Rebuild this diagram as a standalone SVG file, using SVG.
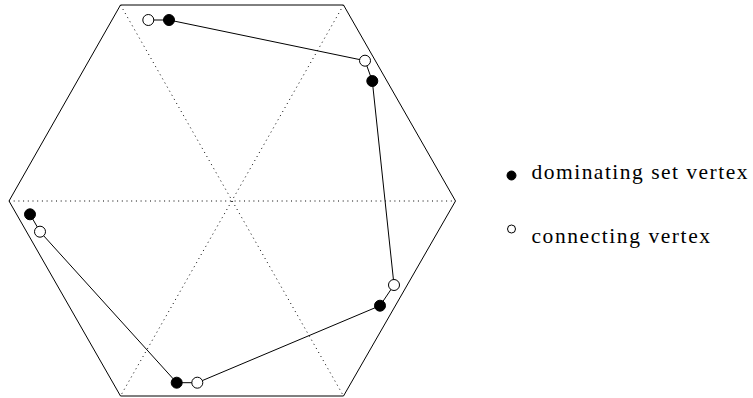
<svg xmlns="http://www.w3.org/2000/svg" width="753" height="398" viewBox="0 0 753 398">
<style>
.hex{fill:none;stroke:#000;stroke-width:1}
.dot{fill:none;stroke:#000;stroke-width:1;stroke-dasharray:1 3.7}
.edge{fill:none;stroke:#000;stroke-width:1}
.dom{fill:#000;stroke:#000;stroke-width:1}
.con{fill:#fff;stroke:#000;stroke-width:1}
</style>
<rect width="753" height="398" fill="#fff"/>
<g id="hexagon">
<polygon class="hex" points="120.5,5 343.5,5 455.5,201 343.5,396 120.5,396 9,201"/>
<line class="dot" x1="120.5" y1="5" x2="343.5" y2="396"/>
<line class="dot" x1="343.5" y1="5" x2="120.5" y2="396"/>
<line class="dot" x1="9" y1="201" x2="455.5" y2="201"/>
</g>
<g id="connectors">
<polyline class="edge" points="148.3,20 169,20 365,60.7 372.3,81 394,285 380,305.7 197.3,382.7 176.7,382.7 40,231.7 30,214.3"/>
</g>
<g id="n1"><circle class="con" cx="148.3" cy="20" r="5.5"/></g>
<g id="n2"><circle class="dom" cx="169" cy="20" r="5.5"/></g>
<g id="n3"><circle class="con" cx="365" cy="60.7" r="5.5"/></g>
<g id="n4"><circle class="dom" cx="372.3" cy="81" r="5.5"/></g>
<g id="n5"><circle class="con" cx="394" cy="285" r="5.5"/></g>
<g id="n6"><circle class="dom" cx="380" cy="305.7" r="5.5"/></g>
<g id="n7"><circle class="con" cx="197.3" cy="382.7" r="5.5"/></g>
<g id="n8"><circle class="dom" cx="176.7" cy="382.7" r="5.5"/></g>
<g id="n9"><circle class="con" cx="40" cy="231.7" r="5.5"/></g>
<g id="n10"><circle class="dom" cx="30" cy="214.3" r="5.5"/></g>
<g id="legend" font-family="'Liberation Serif', 'Times New Roman', serif" font-size="21.5" fill="#000">
<circle class="dom" cx="511.5" cy="175.5" r="4.5"/>
<text x="531.5" y="179.3" textLength="216" lengthAdjust="spacing">dominating set vertex</text>
<circle class="con" cx="511.5" cy="229" r="4"/>
<text x="531.5" y="242.7" textLength="178.5" lengthAdjust="spacing">connecting vertex</text>
</g>
</svg>
